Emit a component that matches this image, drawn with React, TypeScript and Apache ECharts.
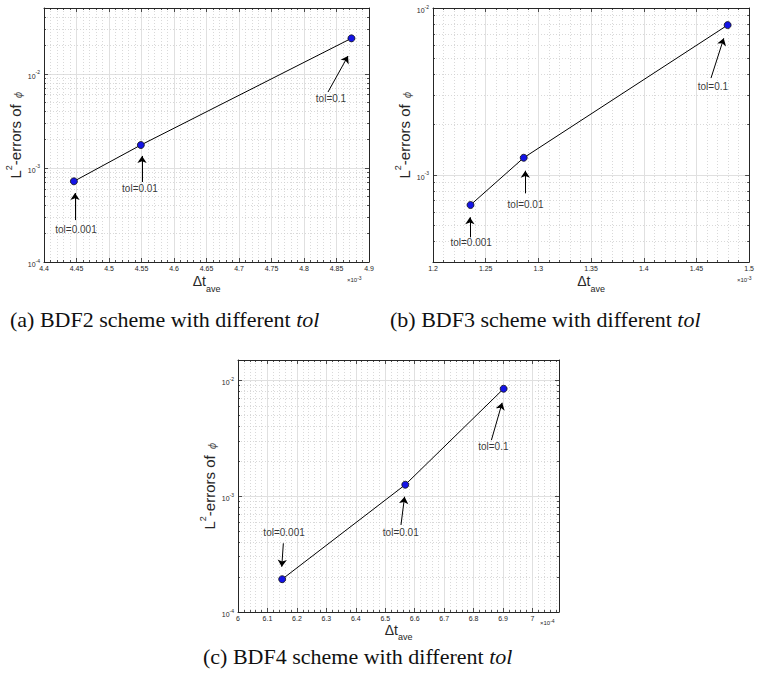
import React, { useEffect, useRef } from 'react';
import * as echarts from 'echarts';

// Average time step (scaled by the axis exponent) and L2 errors, ordered tol = 0.001, 0.01, 0.1
const bdf2Dt = [4.446, 4.549, 4.873]; // x 10^-3
const bdf2Err = [7.2e-4, 1.75e-3, 2.38e-2];
const bdf3Dt = [1.2356, 1.2861, 1.4796]; // x 10^-3
const bdf3Err = [6.59e-4, 1.265e-3, 7.9e-3];
const bdf4Dt = [6.15, 6.568, 6.902]; // x 10^-4
const bdf4Err = [1.92e-4, 1.256e-3, 8.47e-3];

const tolLabels = ['tol=0.001', 'tol=0.01', 'tol=0.1'];

// Annotation arrows (tail -> head) and label anchors, in data coordinates
const bdf2ArrowTail = [[4.4477, 2.79e-4], [4.5508, 7.08e-4], [4.8369, 6.4e-3]];
const bdf2ArrowHead = [[4.4477, 5.4e-4], [4.5508, 1.34e-3], [4.8677, 1.545e-2]];
const bdf2LabelAt = [[4.4492, 2.24e-4], [4.5477, 5.97e-4], [4.8415, 5.46e-3]];

const bdf3ArrowTail = [[1.235, 4.22e-4], [1.2876, 7.74e-4], [1.4638, 3.8e-3]];
const bdf3ArrowHead = [[1.235, 5.56e-4], [1.2876, 1.058e-3], [1.4759, 6.58e-3]];
const bdf3LabelAt = [[1.2362, 3.94e-4], [1.2878, 6.59e-4], [1.4656, 3.4e-3]];

const bdf4ArrowTail = [[6.154, 3.92e-4], [6.5534, 5.64e-4], [6.8605, 3.05e-3]];
const bdf4ArrowHead = [[6.1486, 2.46e-4], [6.5656, 9.9e-4], [6.897, 6.41e-3]];
const bdf4LabelAt = [[6.1565, 4.84e-4], [6.5527, 4.84e-4], [6.867, 2.67e-3]];

// Axis ranges
const xRanges = [[4.4, 4.9, 0.05], [1.2, 1.5, 0.05], [6, 7.09, 0.1]];
const yRanges = [[1e-4, 5e-2], [3e-4, 1e-2], [1e-4, 1.5e-2]];
const xExponents = ['-3', '-3', '-4'];
const captions = [
  ['(a) BDF2 scheme with different ', 'tol'],
  ['(b) BDF3 scheme with different ', 'tol'],
  ['(c) BDF4 scheme with different ', 'tol'],
];

const AXIS_DARK = '#262626';
const GRID_MAJOR = '#e0e0e0';
const GRID_MINOR = '#cfcfcf';
const SANS = 'Liberation Sans, Arial, sans-serif';
const SERIF = 'Liberation Serif, Times New Roman, serif';

const grids = [
  { left: 44, top: 8, width: 325, height: 254 },
  { left: 433, top: 8, width: 323, height: 254 },
  { left: 238, top: 360, width: 321, height: 252 },
];
const xNameGaps = [12, 12, 8];
const yNameGaps = [24, 24, 24];
const exponentPos = [[347, 275], [737, 275], [540, 618]];
const captionPos = [[10, 319], [390, 319], [203, 656]];

function logMinorTicks(min: number, max: number): number[] {
  const out: number[] = [];
  for (let d = Math.floor(Math.log10(min)); d <= Math.ceil(Math.log10(max)); d++) {
    for (let k = 2; k <= 9; k++) {
      const v = k * Math.pow(10, d);
      if (v > min * 1.0001 && v < max * 0.9999) out.push(Math.log10(v));
    }
  }
  return out;
}

function decadeLabel(v: number): string {
  const e = Math.log10(v);
  const r = Math.round(e);
  if (Math.abs(e - r) > 1e-6) return '';
  return '{b|10}{e|' + r + '}';
}

const decadeRich = {
  b: { fontSize: 7, lineHeight: 8, padding: [3, 0, 0, 0], verticalAlign: 'top', color: AXIS_DARK, fontFamily: SANS },
  e: { fontSize: 5, lineHeight: 6, verticalAlign: 'top', color: AXIS_DARK, fontFamily: SANS },
};

function buildOption() {
  const xAxis: any[] = [];
  const yAxis: any[] = [];
  const series: any[] = [];
  const graphic: any[] = [];

  const panels = [
    { dt: bdf2Dt, err: bdf2Err, tail: bdf2ArrowTail, head: bdf2ArrowHead, at: bdf2LabelAt },
    { dt: bdf3Dt, err: bdf3Err, tail: bdf3ArrowTail, head: bdf3ArrowHead, at: bdf3LabelAt },
    { dt: bdf4Dt, err: bdf4Err, tail: bdf4ArrowTail, head: bdf4ArrowHead, at: bdf4LabelAt },
  ];

  panels.forEach((p, i) => {
    const [xMin, xMax, xStep] = xRanges[i];
    const [yMin, yMax] = yRanges[i];
    const tickLine = { color: AXIS_DARK, width: 0.8 };

    // bottom axis with labels and grid
    xAxis.push({
      type: 'value', gridIndex: i, position: 'bottom', min: xMin, max: xMax, interval: xStep,
      axisLine: { show: true, onZero: false, lineStyle: { color: AXIS_DARK, width: 1 } },
      axisTick: { show: true, inside: true, length: 4, lineStyle: tickLine },
      minorTick: { show: true, splitNumber: 5, length: 2, lineStyle: tickLine },
      axisLabel: { show: true, fontSize: 7, color: AXIS_DARK, margin: 3, fontFamily: SANS, showMaxLabel: i !== 2 },
      splitLine: { show: true, lineStyle: { color: GRID_MAJOR, width: 1 } },
      minorSplitLine: { show: true, lineStyle: { color: GRID_MINOR, width: 0.8, type: [1, 2] } },
      name: '{d|Δt}{s|ave}', nameLocation: 'middle', nameGap: xNameGaps[i],
      nameTextStyle: {
        color: AXIS_DARK,
        rich: {
          d: { fontSize: 14, lineHeight: 16, verticalAlign: 'top', fontFamily: SANS, color: AXIS_DARK },
          s: { fontSize: 9, lineHeight: 10, padding: [10, 0, 0, 0], verticalAlign: 'top', fontFamily: SANS, color: AXIS_DARK },
        },
      },
    });
    // top mirror axis
    xAxis.push({
      type: 'value', gridIndex: i, position: 'top', min: xMin, max: xMax, interval: xStep,
      axisLine: { show: true, onZero: false, lineStyle: { color: AXIS_DARK, width: 1 } },
      axisTick: { show: true, inside: true, length: 4, lineStyle: tickLine },
      minorTick: { show: true, splitNumber: 5, length: 2, lineStyle: tickLine },
      axisLabel: { show: false },
      splitLine: { show: false },
    });

    // left log axis
    yAxis.push({
      type: 'log', logBase: 10, gridIndex: i, position: 'left', min: yMin, max: yMax,
      axisLine: { show: true, onZero: false, lineStyle: { color: AXIS_DARK, width: 1 } },
      axisTick: { show: true, inside: true, length: 4, lineStyle: tickLine },
      axisLabel: { show: true, margin: 4, formatter: decadeLabel, rich: decadeRich },
      splitLine: { show: true, lineStyle: { color: GRID_MAJOR, width: 1 } },
      name: '{l|L}{p|2}{l|-errors of }{f|ϕ}', nameLocation: 'middle', nameRotate: 90, nameGap: yNameGaps[i],
      nameTextStyle: {
        color: AXIS_DARK,
        rich: {
          l: { fontSize: 15, lineHeight: 16, padding: [4, 0, 0, 0], verticalAlign: 'top', fontFamily: SANS, color: AXIS_DARK },
          p: { fontSize: 9, lineHeight: 10, verticalAlign: 'top', fontFamily: SANS, color: AXIS_DARK },
          f: { fontSize: 10, lineHeight: 10, padding: [9, 0, 0, 2], verticalAlign: 'top', fontFamily: 'DejaVu Sans, sans-serif', fontStyle: 'italic', color: '#555' },
        },
      },
    });
    // right log mirror
    yAxis.push({
      type: 'log', logBase: 10, gridIndex: i, position: 'right', min: yMin, max: yMax,
      axisLine: { show: true, onZero: false, lineStyle: { color: AXIS_DARK, width: 1 } },
      axisTick: { show: true, inside: true, length: 4, lineStyle: tickLine },
      axisLabel: { show: false },
      splitLine: { show: false },
    });
    // minor decade subdivisions (2..9 x 10^k), laid out in log10 space
    const minors = logMinorTicks(yMin, yMax);
    yAxis.push({
      type: 'value', gridIndex: i, position: 'left', min: Math.log10(yMin), max: Math.log10(yMax),
      axisLine: { show: false },
      axisTick: { show: true, inside: true, length: 2, customValues: minors, lineStyle: tickLine },
      axisLabel: { show: false },
      splitLine: { show: true, lineStyle: { color: GRID_MINOR, width: 0.8, type: [1, 2] } },
    });
    yAxis.push({
      type: 'value', gridIndex: i, position: 'right', min: Math.log10(yMin), max: Math.log10(yMax),
      axisLine: { show: false },
      axisTick: { show: true, inside: true, length: 2, customValues: minors, lineStyle: tickLine },
      axisLabel: { show: false },
      splitLine: { show: false },
    });

    const xi = i * 2;
    const yi = i * 4;

    series.push({
      type: 'line', xAxisIndex: xi, yAxisIndex: yi,
      data: p.dt.map((x, k) => [x, p.err[k]]),
      symbol: 'circle', symbolSize: 7,
      lineStyle: { color: '#000', width: 1 },
      itemStyle: { color: '#1414e6', borderColor: '#111', borderWidth: 0.8 },
      z: 3,
    });
    series.push({
      type: 'lines', coordinateSystem: 'cartesian2d', xAxisIndex: xi, yAxisIndex: yi,
      symbol: ['none', 'arrow'], symbolSize: 7,
      lineStyle: { color: '#000', width: 1, opacity: 1 },
      data: p.tail.map((t, k) => ({ coords: [t, p.head[k]] })),
      z: 4,
    });
    series.push({
      type: 'scatter', xAxisIndex: xi, yAxisIndex: yi,
      symbolSize: 1, itemStyle: { color: 'rgba(0,0,0,0)' },
      label: { show: true, position: 'inside', formatter: (d: any) => d.name, fontSize: 10, color: '#000', fontFamily: SANS },
      data: p.at.map((a, k) => ({ name: tolLabels[k], value: a })),
      z: 5,
    });

    graphic.push({
      type: 'text', x: exponentPos[i][0], y: exponentPos[i][1],
      style: {
        text: '{m|×10}{e|' + xExponents[i] + '}',
        rich: {
          m: { fontSize: 6, lineHeight: 7, padding: [2, 0, 0, 0], verticalAlign: 'top', fontFamily: SANS, fill: AXIS_DARK },
          e: { fontSize: 5, lineHeight: 5, verticalAlign: 'top', fontFamily: SANS, fill: AXIS_DARK },
        },
      },
    });
    graphic.push({
      type: 'text', x: captionPos[i][0], y: captionPos[i][1],
      style: {
        text: '{r|' + captions[i][0] + '}{it|' + captions[i][1] + '}',
        verticalAlign: 'middle',
        rich: {
          r: { fontSize: 22, fontFamily: SERIF, fill: '#111' },
          it: { fontSize: 22, fontFamily: SERIF, fontStyle: 'italic', fill: '#111' },
        },
      },
    });
  });

  return {
    animation: false,
    backgroundColor: '#fff',
    grid: grids.map((g) => ({ ...g, containLabel: false, show: false })),
    xAxis, yAxis, series, graphic,
  };
}

export default function App() {
  const ref = useRef<HTMLDivElement>(null);
  useEffect(() => {
    if (!ref.current) return;
    const chart = echarts.init(ref.current, undefined, { renderer: 'svg' });
    chart.setOption(buildOption() as any);
    return () => chart.dispose();
  }, []);
  return (
    <div
      ref={ref}
      style={{ position: 'absolute', left: 0, top: 0, width: 757, height: 684, background: '#fff' }}
    />
  );
}
